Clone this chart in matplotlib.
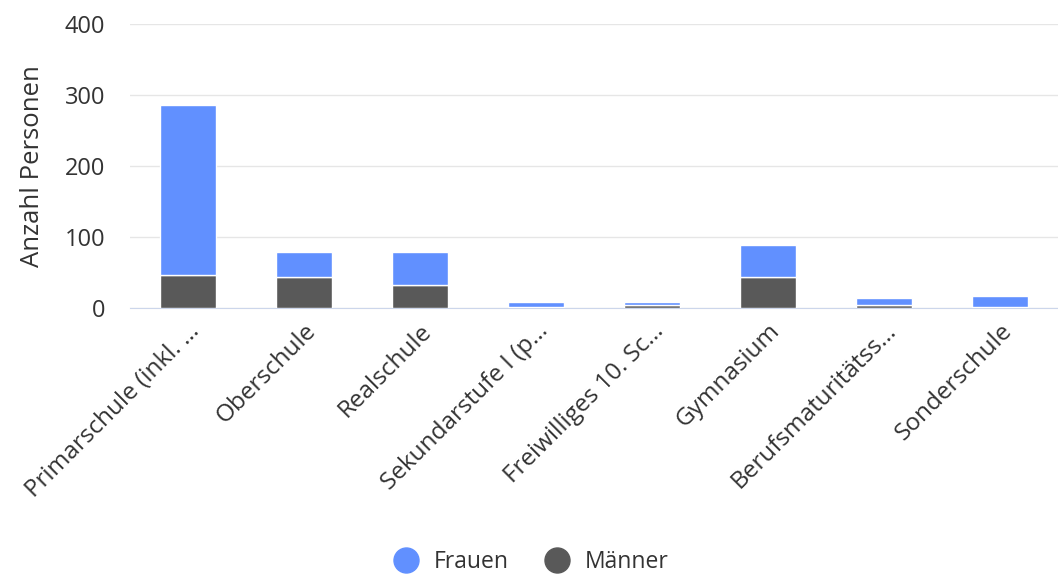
import numpy as np
import matplotlib.pyplot as plt

categories = ['Primarschule (inkl. …', 'Oberschule', 'Realschule', 'Sekundarstufe I (p…',
              'Freiwilliges 10. Sc…', 'Gymnasium', 'Berufsmaturitätss…', 'Sonderschule']
maenner = [46, 43, 32, 1, 4, 43, 4, 1]
frauen = [240, 36, 47, 8, 5, 46, 10, 16]

col_f = '#6190ff'
col_m = '#595959'

plt.rcParams['font.family'] = ['Open Sans', 'DejaVu Sans']

fig = plt.figure(figsize=(10.58, 5.74), dpi=100)
ax = fig.add_axes([130 / 1058, 1 - 308 / 574, 928 / 1058, 284 / 574])

x = np.arange(len(categories))
ax.bar(x, maenner, width=0.48, color=col_m, edgecolor='white', linewidth=1, zorder=3)
ax.bar(x, frauen, width=0.48, bottom=maenner, color=col_f, edgecolor='white', linewidth=1, zorder=3)

ax.set_xlim(-0.5, len(categories) - 0.5)
ax.set_ylim(0, 400)
ax.set_yticks([0, 100, 200, 300, 400])
ax.yaxis.grid(True, color='#e6e6e6', linewidth=1, zorder=0)
ax.set_axisbelow(True)
for s in ['top', 'right', 'left']:
    ax.spines[s].set_visible(False)
ax.spines['bottom'].set_color('#ccd6eb')
ax.tick_params(axis='y', length=0, labelsize=17, colors='#333333', pad=18)
ax.tick_params(axis='x', length=0, labelsize=17.5, colors='#333333', pad=8)
ax.set_xticks(x)
ax.set_xticklabels(categories, rotation=45, ha='right', rotation_mode='anchor')
ax.set_ylabel('Anzahl Personen', fontsize=18.5, color='#333333', labelpad=14)

handles = [plt.Line2D([], [], marker='o', linestyle='', markersize=18, color=c) for c in (col_f, col_m)]
fig.legend(handles, ['Frauen', 'Männer'], loc='center', bbox_to_anchor=(526 / 1058, 1 - 562 / 574),
           ncol=2, frameon=False, fontsize=16.5, handletextpad=0.2, columnspacing=1.1, labelcolor='#333333')

fig.savefig('out.png', dpi=100)
